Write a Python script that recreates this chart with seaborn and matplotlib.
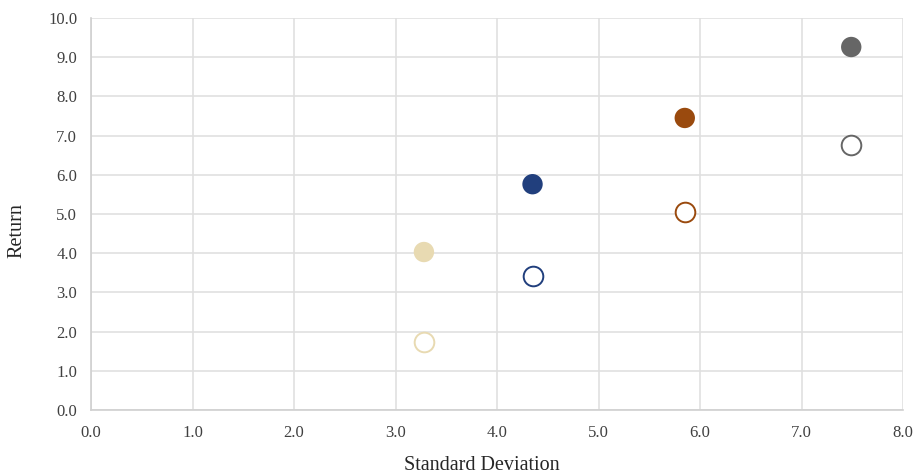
import matplotlib
matplotlib.use("Agg")
import matplotlib.pyplot as plt
import seaborn as sns
import pandas as pd

groups = ["A", "B", "C", "D"]
colors = ["#E8DAB2", "#213F7D", "#9A4A0E", "#666666"]
std_dev = [3.28, 4.35, 5.85, 7.49]
return_filled = [4.03, 5.76, 7.45, 9.26]
return_hollow = [1.73, 3.42, 5.06, 6.77]

x_ticks = [0, 1, 2, 3, 4, 5, 6, 7, 8]
y_ticks = [0, 1, 2, 3, 4, 5, 6, 7, 8, 9, 10]

sns.set_theme(style="whitegrid")
plt.rcParams["font.family"] = ["Liberation Serif", "DejaVu Serif"]

fig = plt.figure(figsize=(9.16, 4.75), dpi=100)
ax = fig.add_axes([91/916, 1 - 410/475, (903-91)/916, (410-18)/475])

df = pd.DataFrame({"group": groups, "sd": std_dev, "rf": return_filled, "rh": return_hollow})
pal = dict(zip(groups, colors))

sns.scatterplot(data=df, x="sd", y="rf", hue="group", palette=pal, s=215,
                linewidth=0, ax=ax, legend=False, zorder=3)
for g, c in zip(groups, colors):
    sub = df[df["group"] == g]
    sns.scatterplot(data=sub, x="sd", y="rh", s=200, facecolor="white",
                    edgecolor=c, linewidth=1.4, ax=ax, legend=False, zorder=3)

ax.set_xlim(0, 8)
ax.set_ylim(0, 10)
ax.set_xticks(x_ticks)
ax.set_yticks(y_ticks)
ax.set_xticklabels([f"{v:.1f}" for v in x_ticks])
ax.set_yticklabels([f"{v:.1f}" for v in y_ticks])
ax.tick_params(axis="both", labelsize=12, colors="#404040", length=0)
ax.tick_params(axis="x", pad=11)
ax.tick_params(axis="y", pad=10)
ax.grid(True, color="#E0E0E0", linewidth=1.2)
for side in ["top", "right"]:
    ax.spines[side].set_visible(False)
for side in ["left", "bottom"]:
    ax.spines[side].set_color("#D0D0D0")
    ax.spines[side].set_linewidth(1.2)
ax.set_xlabel("")
ax.set_ylabel("")

fig.text(482/916, 1 - 465/475, "Standard Deviation", ha="center", va="center",
         fontsize=14.5, color="#262626")
fig.text(17/916, 1 - 231/475, "Return", ha="center", va="center", rotation=90,
         fontsize=14.5, color="#262626")

fig.savefig("out.png", dpi=100, facecolor="white")
